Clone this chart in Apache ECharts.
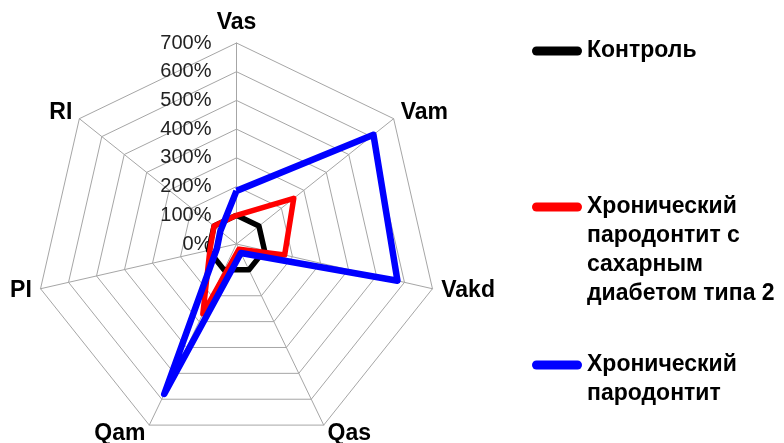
<!DOCTYPE html>
<html><head><meta charset="utf-8">
<script src="https://cdn.jsdelivr.net/npm/echarts@6/dist/echarts.min.js"></script>
<style>html,body{margin:0;padding:0;background:#fff}#c{width:784px;height:443px}</style>
</head><body><div id="c"></div>
<script>
// Axes listed clockwise from the top, as in the picture
const indicators = ['Vas', 'Vam', 'Vakd', 'Qas', 'Qam', 'PI', 'RI'];
const axisMin = 0;
const axisMax = 700;
const splitCount = 7;
const seriesNames = ['Контроль', 'Хронический\nпародонтит с\nсахарным\nдиабетом типа 2', 'Хронический\nпародонтит'];
const control = [100, 100, 100, 100, 100, 100, 100];
const cpDiabetes = [100, 255, 172, 20, 270, 95, 100];
const cp = [185, 610, 575, 35, 580, 70, 72];
const colors = ['#000000', '#ff0000', '#0000ff'];
const lineWidths = [5.5, 5.5, 6.5];
const seriesValues = [control, cpDiabetes, cp];

// ECharts radar runs counter-clockwise; reorder so the axes run clockwise
const order = [0, 6, 5, 4, 3, 2, 1];
const reorder = arr => order.map(k => arr[k]);

const FONT = 'Liberation Sans, Arial, sans-serif';
const LH = 29;
const legendTops = [36.5, 105.5, 321.5];
const iconPath = 'path://M4.5,0 H45.5 A4.5,4.5 0 0 1 45.5,9 H4.5 A4.5,4.5 0 0 1 4.5,0 Z';

const chart = echarts.init(document.getElementById('c'), null, {renderer: 'canvas'});
chart.setOption({
  animation: false,
  backgroundColor: '#ffffff',
  legend: seriesNames.map((name, i) => {
    const n = name.split('\n').length;
    return {
      left: 532, top: legendTops[i], orient: 'vertical', padding: 0,
      itemWidth: 50, itemHeight: 9, itemGap: 0, selectedMode: false,
      data: [{name: name, icon: iconPath, itemStyle: {color: colors[i]}}],
      formatter: nm => '\n'.repeat(n - 1) + nm,
      textStyle: {fontFamily: FONT, fontWeight: 'bold', fontSize: 23, color: '#000', lineHeight: LH}
    };
  }),
  radar: {
    center: [236.5, 244], radius: 201, startAngle: 90, splitNumber: splitCount, shape: 'polygon',
    indicator: reorder(indicators).map((n, i) => Object.assign({name: n, min: axisMin, max: axisMax}, i === 0 ? {axisLabel: {show: true}} : {})),
    axisName: {color: '#000', fontSize: 23, fontWeight: 'bold', fontFamily: FONT},
    nameGap: 9,
    splitLine: {lineStyle: {color: '#a6a6a6', width: 1}},
    splitArea: {show: false},
    axisLine: {lineStyle: {color: '#a6a6a6', width: 1}},
    axisTick: {show: false},
    axisLabel: {show: false, fontSize: 20, color: '#222', margin: 25, fontFamily: FONT, formatter: v => v + '%'}
  },
  series: seriesValues.map((vals, i) => ({
    type: 'radar', name: seriesNames[i], symbol: 'none', z: 2 + i,
    lineStyle: {color: colors[i], width: lineWidths[i], join: 'round'},
    itemStyle: {color: colors[i]},
    data: [{value: reorder(vals), name: seriesNames[i]}]
  }))
});
</script></body></html>
